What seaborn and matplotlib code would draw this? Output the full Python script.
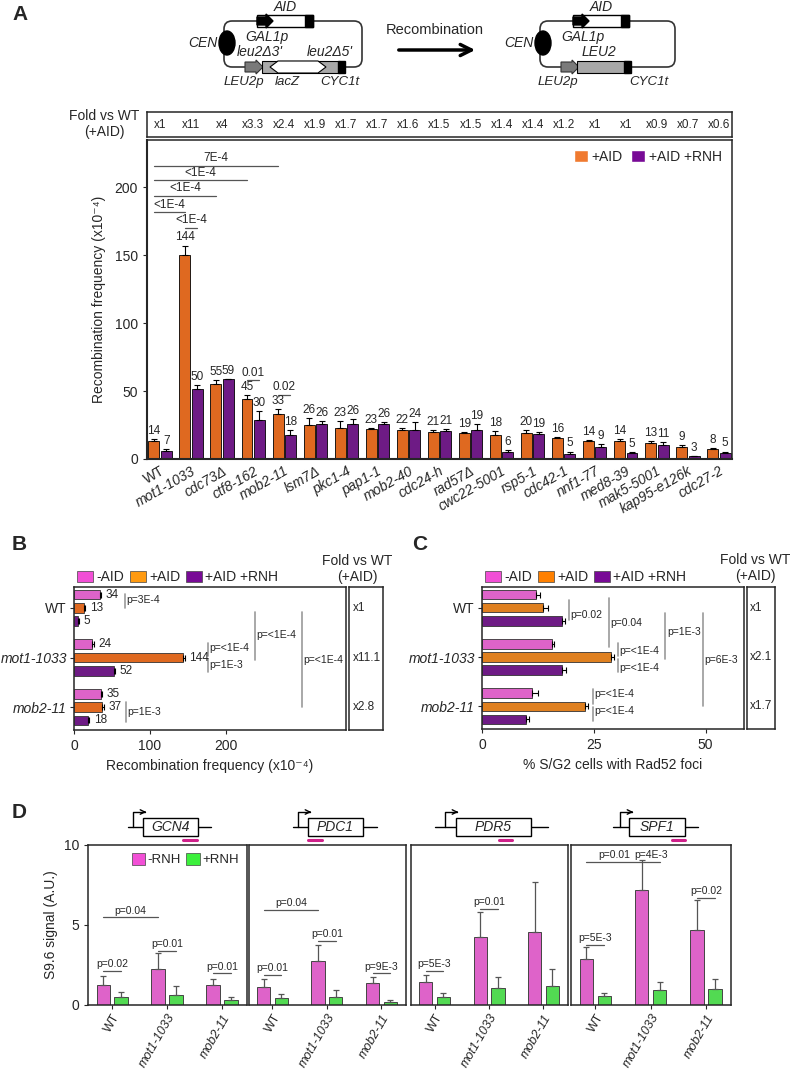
import matplotlib.pyplot as plt
import numpy as np
import pandas as pd
import seaborn as sns
from matplotlib.patches import Rectangle, Polygon, Ellipse, FancyBboxPatch, Patch

W, H = 798, 1069

# ---------------- panel A data ----------------
strains_a = ["WT", "mot1-1033", "cdc73Δ", "ctf8-162", "mob2-11", "lsm7Δ", "pkc1-4",
             "pap1-1", "mob2-40", "cdc24-h", "rad57Δ", "cwc22-5001", "rsp5-1",
             "cdc42-1", "nnf1-77", "med8-39", "mak5-5001", "kap95-e126k", "cdc27-2"]
aid_a = [13.5, 150, 55, 44, 33, 25, 23, 22, 21, 20, 19, 18, 19, 15.5, 13.5, 13, 12, 8.5, 7.5]
aid_err_a = [1.5, 7, 3, 3, 3.5, 5, 5, 0.5, 1.5, 1, 1, 2.5, 2, 0.5, 0.5, 1.5, 1, 1.5, 0.5]
rnh_a = [6, 51.5, 58.5, 29, 17.5, 25.5, 25.5, 25.5, 21, 20.5, 21, 5, 18.5, 4, 8.5, 4.5, 10.5, 2, 4.5]
rnh_err_a = [1.5, 3, 0.5, 6, 3.5, 2.5, 4, 1.5, 6, 1.5, 4.5, 1.5, 1.5, 1.5, 2.5, 0.5, 2, 0.5, 1]
aid_lab_a = ["14", "144", "55", "45", "33", "26", "23", "23", "22", "21", "19", "18", "20", "16", "14", "14", "13", "9", "8"]
rnh_lab_a = ["7", "50", "59", "30", "18", "26", "26", "26", "24", "21", "19", "6", "19", "5", "9", "5", "11", "3", "5"]
fold_a = ["x1", "x11", "x4", "x3.3", "x2.4", "x1.9", "x1.7", "x1.7", "x1.6", "x1.5",
          "x1.5", "x1.4", "x1.4", "x1.2", "x1", "x1", "x0.9", "x0.7", "x0.6"]
conds_a = ["+AID", "+AID +RNH"]

# ---------------- panels B / C data ----------------
strains_bc = ["WT", "mot1-1033", "mob2-11"]
conds_bc = ["-AID", "+AID", "+AID +RNH"]
noaid_b = [34, 24, 35]
aid_b = [13, 144, 37]
rnh_b = [5, 52, 18]
noaid_b_err = [2, 2, 2]
aid_b_err = [2, 2, 2]
rnh_b_err = [1.5, 2.5, 2]
fold_b = ["x1", "x11.1", "x2.8"]

noaid_c = [12, 15.6, 11.1]
aid_c = [13.7, 28.8, 23]
rnh_c = [18, 18, 9.8]
noaid_c_err = [1, 0.6, 1.5]
aid_c_err = [1, 0.8, 0.8]
rnh_c_err = [0.6, 0.7, 0.8]
fold_c = ["x1", "x2.1", "x1.7"]

# ---------------- panel D data ----------------
genes_d = ["GCN4", "PDC1", "PDR5", "SPF1"]
strains_d = ["WT", "mot1-1033", "mob2-11"]
conds_d = ["-RNH", "+RNH"]
minus_d = [[1.27, 2.27, 1.27], [1.12, 2.75, 1.38], [1.44, 4.24, 4.58], [2.86, 7.16, 4.7]]
minus_d_err = [[0.53, 0.95, 0.36], [0.53, 1.0, 0.38], [0.46, 1.59, 3.1], [0.74, 1.9, 1.87]]
plus_d = [[0.49, 0.64, 0.32], [0.42, 0.49, 0.17], [0.53, 1.06, 1.2], [0.59, 0.95, 1.0]]
plus_d_err = [[0.31, 0.56, 0.17], [0.28, 0.42, 0.13], [0.25, 0.66, 1.02], [0.15, 0.49, 0.65]]

AID_COL = "#FF6200"
AID_LEG = "#F07A30"
RNH_COL = "#780A96"
PINK = "#F24FD6"
ORANGE_C = "#FF8000"
GREEN = "#3CF03C"
SIG = "#555555"


def px_axes(fig, x0, y0, x1, y1):
    return fig.add_axes([x0 / W, 1 - y1 / H, (x1 - x0) / W, (y1 - y0) / H])


def long_df(cats, conds, series):
    rows = []
    for cond, vals in zip(conds, series):
        for c, v in zip(cats, vals):
            rows.append({"strain": c, "cond": cond, "value": v})
    return pd.DataFrame(rows)


def bar_positions(ax, horizontal=False):
    # returns {category index: [(center, value) sorted by hue]}
    out = {}
    for p in ax.patches:
        if horizontal:
            c, v = p.get_y() + p.get_height() / 2, p.get_width()
        else:
            c, v = p.get_x() + p.get_width() / 2, p.get_height()
        out.setdefault(int(round(c)), []).append((c, v))
    for k in out:
        out[k].sort()
    return out


def italic_ticks(labels):
    for lbl in labels:
        if lbl.get_text() != "WT":
            lbl.set_fontstyle("italic")


sns.set_style("ticks")
plt.rcParams["font.family"] = ["Liberation Sans", "DejaVu Sans"]
plt.rcParams["axes.linewidth"] = 1.1
plt.rcParams["xtick.major.size"] = 3
plt.rcParams["ytick.major.size"] = 3

fig = plt.figure(figsize=(W / 100, H / 100), dpi=100)
ov = fig.add_axes([0, 0, 1, 1])
ov.set_xlim(0, W)
ov.set_ylim(H, 0)
ov.axis("off")

for letter, x, y in [("A", 12, 15), ("B", 12, 545), ("C", 412, 545), ("D", 12, 813)]:
    ov.text(x, y, letter, fontsize=15, fontweight="bold", ha="left", va="center")


# ---------- plasmid diagrams ----------
def plasmid(x0, x1, recombined):
    ov.add_patch(FancyBboxPatch((x0, 21), x1 - x0, 46, boxstyle="round,pad=0,rounding_size=8",
                                fc="none", ec="#333333", lw=1.2))
    a0 = x0 + 33
    ov.add_patch(Rectangle((a0, 15), 56, 12, fc="white", ec="black", lw=1))
    ov.add_patch(Polygon([(a0, 17), (a0 + 9, 17), (a0 + 9, 14), (a0 + 16, 21), (a0 + 9, 28),
                          (a0 + 9, 25), (a0, 25)], closed=True, fc="black", ec="black"))
    ov.add_patch(Rectangle((a0 + 48, 15), 8, 12, fc="black", ec="black"))
    ov.text(a0 + 28, 7, "AID", fontsize=10, style="italic", ha="center", va="center")
    ov.add_patch(Ellipse((x0 + 3, 43), 16, 24, fc="black", ec="black"))
    ov.text(x0 - 7, 43, "CEN", fontsize=10, style="italic", ha="right", va="center")
    ov.text(a0 + 10, 37, "GAL1p", fontsize=10, style="italic", ha="center", va="center")
    p0 = x0 + 21
    ov.add_patch(Polygon([(p0, 62), (p0 + 11, 62), (p0 + 11, 60), (p0 + 18, 67), (p0 + 11, 74),
                          (p0 + 11, 72), (p0, 72)], closed=True, fc="#7a7a7a", ec="#333333", lw=0.8))
    if not recombined:
        ov.add_patch(Rectangle((p0 + 17, 61), 78, 12, fc="#a8a8a8", ec="black", lw=0.8))
        ov.add_patch(Polygon([(p0 + 25, 67), (p0 + 33, 61), (p0 + 73, 61), (p0 + 81, 67),
                              (p0 + 73, 73), (p0 + 33, 73)], closed=True, fc="white", ec="black", lw=0.8))
        ov.add_patch(Rectangle((p0 + 93, 61), 7, 12, fc="black", ec="black"))
        ov.text(p0 + 15, 52, "leu2Δ3'", fontsize=10, style="italic", ha="center", va="center")
        ov.text(p0 + 85, 52, "leu2Δ5'", fontsize=10, style="italic", ha="center", va="center")
        ov.text(p0 - 1, 82, "LEU2p", fontsize=9.5, style="italic", ha="center", va="center")
        ov.text(p0 + 42, 82, "lacZ", fontsize=9.5, style="italic", ha="center", va="center")
        ov.text(p0 + 95, 82, "CYC1t", fontsize=9.5, style="italic", ha="center", va="center")
    else:
        ov.add_patch(Rectangle((p0 + 16, 61), 52, 12, fc="#a8a8a8", ec="black", lw=0.8))
        ov.add_patch(Rectangle((p0 + 63, 61), 7, 12, fc="black", ec="black"))
        ov.text(p0 + 38, 52, "LEU2", fontsize=10, style="italic", ha="center", va="center")
        ov.text(p0 - 3, 82, "LEU2p", fontsize=9.5, style="italic", ha="center", va="center")
        ov.text(p0 + 88, 82, "CYC1t", fontsize=9.5, style="italic", ha="center", va="center")


plasmid(224, 362, False)
plasmid(540, 675, True)
ov.annotate("", xy=(478, 50), xytext=(396, 50),
            arrowprops=dict(arrowstyle="->", lw=2.5, color="black", mutation_scale=20))
ov.text(435, 30, "Recombination", fontsize=10.5, ha="center", va="center")

# ---------- panel A ----------
ax_a = px_axes(fig, 147, 140, 732, 459)
df_a = long_df(strains_a, conds_a, [aid_a, rnh_a])
sns.barplot(data=df_a, x="strain", y="value", hue="cond", hue_order=conds_a,
            palette=[AID_COL, RNH_COL], width=0.8, gap=0.12, edgecolor="black",
            linewidth=0.6, errorbar=None, legend=False, ax=ax_a)
pos_a = bar_positions(ax_a)
for i in range(len(strains_a)):
    for k, (errs, labs) in enumerate([(aid_err_a, aid_lab_a), (rnh_err_a, rnh_lab_a)]):
        c, v = pos_a[i][k]
        ax_a.errorbar(c, v, yerr=[[0], [errs[i]]], fmt="none", ecolor="black",
                      elinewidth=0.8, capsize=2.5, capthick=0.8)
        ax_a.text(c, v + errs[i] + 1.5, labs[i], ha="center", va="bottom", fontsize=8.5)
ax_a.set_xlim(-0.42, 18.42)
ax_a.set_ylim(0, 234.6)
ax_a.set_yticks([0, 50, 100, 150, 200])
ax_a.tick_params(axis="y", labelsize=10)
ax_a.tick_params(axis="x", labelsize=10, length=0)
ax_a.set_xticks(range(len(strains_a)))
ax_a.set_xticklabels(strains_a, rotation=30, ha="right", rotation_mode="anchor")
italic_ticks(ax_a.get_xticklabels())
ax_a.set_xlabel("")
ax_a.set_ylabel("Recombination frequency (x10⁻⁴)", fontsize=10, labelpad=6)
for s in ["left", "bottom"]:
    ax_a.spines[s].set_linewidth(1.5)

sig_a = [(0, 0, 4, 0, 215.5, "7E-4"), (0, 0, 3, 0, 205.0, "<1E-4"),
         (0, 0, 2, 0, 193.5, "<1E-4"), (0, 0, 1, 0, 181.5, "<1E-4"),
         (1, 0, 1, 1, 170.0, "<1E-4"), (3, 0, 3, 1, 58.0, "0.01"), (4, 0, 4, 1, 47.0, "0.02")]
for i0, h0, i1, h1, y, lab in sig_a:
    x0, x1 = pos_a[i0][h0][0], pos_a[i1][h1][0]
    ax_a.plot([x0, x1], [y, y], color=SIG, lw=0.9)
    ax_a.text((x0 + x1) / 2, y + 1.2, lab, ha="center", va="bottom", fontsize=8.5)

ax_a.legend(handles=[Patch(fc=AID_LEG, label="+AID"), Patch(fc=RNH_COL, label="+AID +RNH")],
            loc="upper right", ncol=2, frameon=False, fontsize=10, handlelength=1.0,
            handleheight=1.0, handletextpad=0.3, columnspacing=0.6, borderaxespad=0.3)

ax_f = px_axes(fig, 147, 112, 732, 137)
ax_f.set_xlim(-0.42, 18.42)
ax_f.set_ylim(0, 1)
ax_f.set_xticks([])
ax_f.set_yticks([])
for i, t in enumerate(fold_a):
    ax_f.text(i, 0.5, t, ha="center", va="center", fontsize=8.5)
ov.text(104, 124, "Fold vs WT\n(+AID)", ha="center", va="center", fontsize=10, linespacing=1.2)


# ---------- panels B and C ----------
def hbar_panel(box, fold_box, series, errs, palette, xmax, xticks, xlabel, folds, sigs, leg_cols):
    ax = px_axes(fig, *box)
    df = long_df(strains_bc, conds_bc, series)
    sns.barplot(data=df, x="value", y="strain", hue="cond", hue_order=conds_bc, orient="h",
                palette=palette, width=0.8, gap=0.28, edgecolor="#333333", linewidth=0.6,
                errorbar=None, legend=False, ax=ax)
    pos = bar_positions(ax, horizontal=True)
    for i in range(3):
        for k in range(3):
            c, v = pos[i][k]
            ax.errorbar(v, c, xerr=[[0], [errs[k][i]]], fmt="none", ecolor="black",
                        elinewidth=0.8, capsize=2, capthick=0.8)
    ax.set_xlim(0, xmax)
    ax.set_ylim(2.46, -0.42)
    ax.set_xticks(xticks)
    ax.tick_params(axis="x", labelsize=10)
    ax.tick_params(axis="y", labelsize=10, length=3, pad=2)
    italic_ticks(ax.get_yticklabels())
    ax.set_ylabel("")
    ax.set_xlabel(xlabel, fontsize=10)
    for x, y0, y1, lab, ty in sigs:
        ax.plot([x, x], [y0, y1], color="#999999", lw=1.2)
        if lab:
            ax.text(x + xmax * 0.006, ty, lab, ha="left", va="center", fontsize=7.5)
    ax.legend(handles=[Patch(fc=col, ec="#444444", lw=0.5, label=l) for col, l in zip(leg_cols, conds_bc)],
              loc="lower left", bbox_to_anchor=(0, 1.0), ncol=3, frameon=False, fontsize=10,
              handlelength=1.2, handleheight=0.9, handletextpad=0.2, columnspacing=0.4,
              borderaxespad=0.1, borderpad=0.1)
    fb = px_axes(fig, *fold_box)
    fb.set_ylim(2.46, -0.42)
    fb.set_xlim(0, 1)
    fb.set_xticks([])
    fb.set_yticks([])
    for i, t in enumerate(folds):
        fb.text(0.1, i, t, ha="left", va="center", fontsize=8.5)
    return ax, pos


sigs_b = [(67, -0.27, 0.0, "p=3E-4", -0.15),
          (176, 0.7, 0.96, "p=<1E-4", 0.8), (176, 1.04, 1.3, "p=1E-3", 1.15),
          (238, 0.08, 1.05, "p=<1E-4", 0.55), (300, 0.08, 2.0, "p=<1E-4", 1.05),
          (68, 1.9, 2.3, "p=1E-3", 2.1)]
ax_b, pos_b = hbar_panel((74, 587, 346, 730), (349, 587, 383, 730),
                         [noaid_b, aid_b, rnh_b], [noaid_b_err, aid_b_err, rnh_b_err],
                         [PINK, AID_COL, RNH_COL], 358, [0, 100, 200],
                         "Recombination frequency (x10⁻⁴)", fold_b, sigs_b,
                         [PINK, "#FF9A10", RNH_COL])
lab_b = [noaid_b, aid_b, rnh_b]
err_b = [noaid_b_err, aid_b_err, rnh_b_err]
for i in range(3):
    for k in range(3):
        c, v = pos_b[i][k]
        ax_b.text(v + err_b[k][i] + 6, c, str(lab_b[k][i]), ha="left", va="center", fontsize=8.5)

sigs_c = [(19.5, -0.16, 0.24, "p=0.02", 0.15), (28.4, -0.2, 0.8, "p=0.04", 0.3),
          (30.4, 0.72, 0.98, "p=<1E-4", 0.87), (30.4, 1.05, 1.3, "p=<1E-4", 1.22),
          (41.0, 0.1, 1.05, "p=1E-3", 0.5), (49.4, 0.1, 2.0, "p=6E-3", 1.07),
          (24.8, 1.65, 1.95, "p=<1E-4", 1.76), (24.8, 2.02, 2.3, "p=<1E-4", 2.1)]
ax_c, pos_c = hbar_panel((482, 587, 744, 729), (747, 587, 775, 729),
                         [noaid_c, aid_c, rnh_c], [noaid_c_err, aid_c_err, rnh_c_err],
                         [PINK, ORANGE_C, RNH_COL], 58.6, [0, 25, 50],
                         "% S/G2 cells with Rad52 foci", fold_c, sigs_c,
                         [PINK, ORANGE_C, RNH_COL])

ov.text(357, 569, "Fold vs WT\n(+AID)", ha="center", va="center", fontsize=10, linespacing=1.2)
ov.text(755, 568, "Fold vs WT\n(+AID)", ha="center", va="center", fontsize=10, linespacing=1.2)

# ---------- panel D ----------
boxes_d = [(88, 845, 246.7, 1005), (248.5, 845, 406, 1005), (410.6, 845, 568, 1005), (571, 845, 731, 1005)]
gene_art = [(128, 211, 143, 198, 133, 183, 197), (293, 377, 308, 363, 298, 308, 322),
            (435, 548, 456, 531, 445, 499, 512), (613, 698, 629, 685, 620, 672, 685)]
sigs_d = [[(0, 0, 1, 0, 5.47, "p=0.04"), (0, 0, 0, 1, 2.12, "p=0.02"),
           (1, 0, 1, 1, 3.4, "p=0.01"), (2, 0, 2, 1, 1.97, "p=0.01")],
          [(0, 0, 1, 0, 5.95, "p=0.04"), (0, 0, 0, 1, 1.86, "p=0.01"),
           (1, 0, 1, 1, 3.98, "p=0.01"), (2, 0, 2, 1, 1.97, "p=9E-3")],
          [(0, 0, 0, 1, 2.12, "p=5E-3"), (1, 0, 1, 1, 6.0, "p=0.01")],
          [(0, 0, 1, 0, 8.96, "p=0.01"), (1, 0, 1, 1, 8.96, "p=4E-3"),
           (0, 0, 0, 1, 3.77, "p=5E-3"), (2, 0, 2, 1, 6.7, "p=0.02")]]

for g in range(4):
    ax = px_axes(fig, *boxes_d[g])
    df = long_df(strains_d, conds_d, [minus_d[g], plus_d[g]])
    sns.barplot(data=df, x="strain", y="value", hue="cond", hue_order=conds_d,
                palette=[PINK, GREEN], width=0.65, gap=0.25, edgecolor="#444444",
                linewidth=0.7, errorbar=None, legend=False, ax=ax)
    pos = bar_positions(ax)
    for i in range(3):
        for k, errs in enumerate([minus_d_err[g], plus_d_err[g]]):
            c, v = pos[i][k]
            ax.errorbar(c, v, yerr=[[0], [errs[i]]], fmt="none", ecolor=SIG,
                        elinewidth=0.9, capsize=2.5, capthick=0.9)
    for i0, h0, i1, h1, y, lab in sigs_d[g]:
        x0, x1 = pos[i0][h0][0], pos[i1][h1][0]
        ax.plot([x0, x1], [y, y], color=SIG, lw=0.9)
        ax.text((x0 + x1) / 2, y + 0.12, lab, ha="center", va="bottom", fontsize=7.5)
    ax.set_xlim(-0.44, 2.45)
    ax.set_ylim(0, 10)
    ax.set_xlabel("")
    ax.set_xticks(range(3))
    ax.set_xticklabels(strains_d, rotation=60, ha="right", rotation_mode="anchor")
    ax.tick_params(axis="x", labelsize=9, length=3, pad=2)
    italic_ticks(ax.get_xticklabels())
    if g == 0:
        ax.set_yticks([0, 5, 10])
        ax.tick_params(axis="y", labelsize=10)
        ax.set_ylabel("S9.6 signal (A.U.)", fontsize=10)
        ax.legend(handles=[Patch(fc=PINK, ec="#444444", lw=0.5, label="-RNH"),
                           Patch(fc=GREEN, ec="#444444", lw=0.5, label="+RNH")],
                  loc="upper right", ncol=2, frameon=False, fontsize=9.5, handlelength=1.0,
                  handleheight=1.0, handletextpad=0.2, columnspacing=0.4, borderaxespad=0.2)
    else:
        ax.set_yticks([])
        ax.set_ylabel("")

    l0, l1, b0, b1, px, m0, m1 = gene_art[g]
    ov.plot([l0, l1], [827, 827], color="black", lw=1)
    ov.add_patch(Rectangle((b0, 818), b1 - b0, 18, fc="white", ec="black", lw=1, zorder=3))
    ov.plot([px, px, px + 12], [827, 812, 812], color="black", lw=1, zorder=4)
    ov.annotate("", xy=(px + 16, 812), xytext=(px + 8, 812),
                arrowprops=dict(arrowstyle="->", lw=1, color="black", mutation_scale=8), zorder=4)
    ov.text((b0 + b1) / 2, 827, genes_d[g], fontsize=10, style="italic", ha="center", va="center", zorder=5)
    ov.plot([m0, m1], [839.5, 839.5], color="#D0208A", lw=2.2)

fig.savefig("out.png", dpi=100)
